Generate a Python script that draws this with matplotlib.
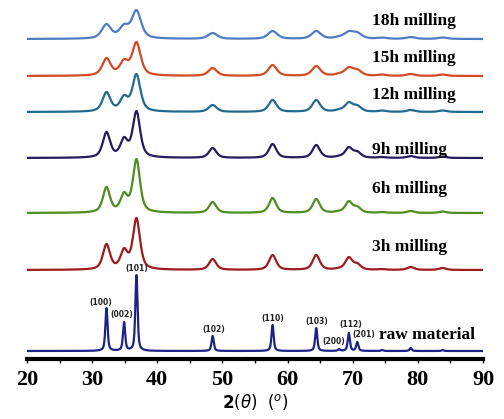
import numpy as np
import matplotlib
matplotlib.use("Agg")
from matplotlib import pyplot as plt

# peak positions (2theta, degrees)
peak_pos = [32.2, 34.9, 36.8, 48.5, 57.7, 64.4, 67.9, 69.4, 70.7, 74.5, 78.9, 83.8]
hkl = ["(100)", "(002)", "(101)", "(102)", "(110)", "(103)", "(200)", "(112)", "(201)"]

# observed peak heights above baseline (same order as peak_pos)
raw_h = [43, 29, 76, 15, 26, 23, 2, 18, 9, 1, 3, 1]
h3_h = [26, 22, 52, 11, 15, 15, 2.5, 13, 7, 1, 3, 2]
h6_h = [26, 21, 54, 11, 15, 14, 2.5, 12, 7, 1, 2, 1.5]
h9_h = [26, 21, 47, 10, 14, 13, 2.5, 11, 7, 1, 2, 1.5]
h12_h = [20, 17, 38, 7, 12, 12, 3, 10, 7, 1.5, 2, 1.5]
h15_h = [18, 17, 34, 8, 11, 10, 3, 9, 7, 1.5, 2, 1.5]
h18_h = [15, 15, 29, 6, 8, 8, 3, 8, 7, 1.5, 2, 1.5]

# peak widths (FWHM, degrees)
widths = [0.4, 1.3, 1.3, 1.35, 1.45, 1.55, 1.7]
names = ["raw material", "3h milling", "6h milling", "9h milling",
         "12h milling", "15h milling", "18h milling"]
heights = [raw_h, h3_h, h6_h, h9_h, h12_h, h15_h, h18_h]
offsets = [8, 89, 146, 201, 247, 283, 320]
colors = ["#1b2485", "#9b1c1f", "#4e8d1f", "#231c5e", "#22698f", "#d24a21", "#4d7cc4"]

x = np.linspace(20, 90, 3000)
pos = np.array(peak_pos)


def profile(d, w):
    hw = w / 2
    lor = 1 / (1 + (d / hw) ** 2)
    gau = np.exp(-np.log(2) * (d / hw) ** 2)
    return 0.6 * lor + 0.4 * gau


def pattern(h, w):
    # amplitudes so that the summed curve has the read heights at the peaks
    A = profile(pos[:, None] - pos[None, :], w)
    amp = np.clip(np.linalg.solve(A, np.array(h, float)), 0, None)
    y = np.zeros_like(x)
    for c, a in zip(pos, amp):
        y += a * profile(x - c, w)
    return y


fig = plt.figure(figsize=(5.04, 4.19), dpi=100)
ax = fig.add_axes([27/504, 60/419, 456/504, 359/419])

for h, w, off, col, name in zip(heights, widths, offsets, colors, names):
    ax.plot(x, pattern(h, w) + off, color=col, lw=1.6)

label_y = [24, 112, 170, 209, 264, 301, 338]
for name, ly in zip(names, label_y):
    lx = 74.0 if name == "raw material" else 73.0
    ax.text(lx, ly, name, fontsize=12.5, fontweight="bold",
            family="Liberation Serif", va="center", ha="left")

hkl_xy = [(31.3, 57), (34.6, 45), (36.9, 91), (48.6, 30), (57.7, 41),
          (64.5, 38), (67.1, 18), (69.7, 35), (71.7, 25)]
for lab, (lx, ly) in zip(hkl, hkl_xy):
    ax.text(lx, ly, lab, fontsize=5.5, fontweight="bold", ha="center",
            va="center", color="#222222")

ax.set_xlim(20, 90)
ax.set_ylim(0, 359)
ax.set_yticks([])
for s in ["left", "right", "top"]:
    ax.spines[s].set_visible(False)
ax.spines["bottom"].set_linewidth(3)
ax.set_xticks(np.arange(20, 91, 10))
ax.set_xticks(np.arange(25, 90, 5), minor=True)
ax.tick_params(axis="x", which="both", direction="out", length=3, width=1)
ax.set_xticklabels([str(v) for v in range(20, 91, 10)], fontsize=16,
                   fontweight="bold", family="Liberation Serif")
ax.tick_params(axis="x", which="major", pad=5)
ax.set_xlabel(r"$\mathbf{2}$$(\theta)$  $(^o)$", fontsize=12, labelpad=1)

fig.savefig("out.png", dpi=100)
